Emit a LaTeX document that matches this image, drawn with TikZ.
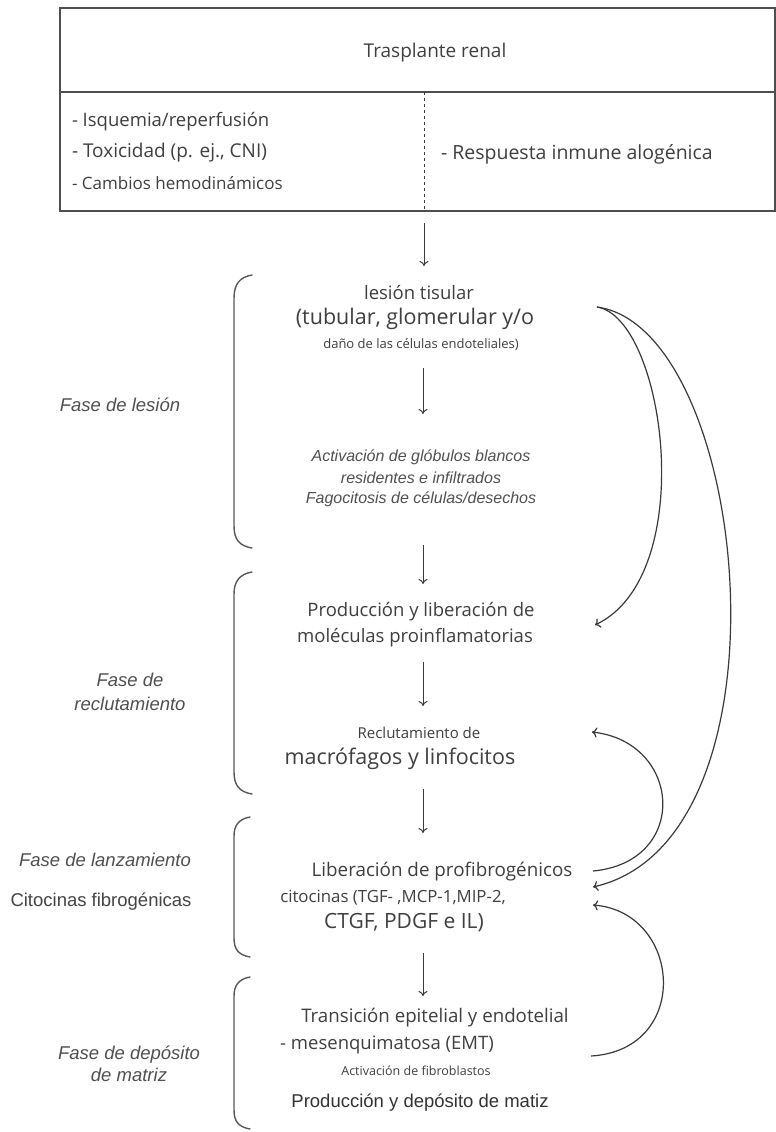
\documentclass[tikz,border=0pt]{standalone}
\usepackage{fontspec}
\setmainfont{Open Sans}
\newfontfamily\arialf{Liberation Sans}
\usetikzlibrary{arrows.meta}
\definecolor{txt}{HTML}{3F3F3F}
\definecolor{lab}{HTML}{505050}
\definecolor{lin}{HTML}{3A3A3A}
\begin{document}
\begin{tikzpicture}[x=1pt,y=-1pt,
  every node/.style={inner sep=0pt,outer sep=0pt,text=txt,align=center},
  os/.style={font=\fontsize{#1}{#1}\selectfont},
  ar/.style={font=\arialf\fontsize{#1}{#1}\selectfont},
  ari/.style={font=\arialf\itshape\fontsize{#1}{#1}\selectfont,text=lab},
  arr/.style={draw=lin,line width=1pt,-{To[length=5pt,width=9pt]}},
  crv/.style={draw=lin,line width=1.2pt,-{To[length=5pt,width=10pt]}},
  brace/.style={draw=lin!85,line width=1.4pt,line cap=round},
  boxline/.style={draw=lin!90,line width=2pt}]
\useasboundingbox (0,0) rectangle (776,1132);
\fill[white] (0,0) rectangle (776,1132);
% top box
\draw[boxline] (60,8) rectangle (775,211);
\draw[boxline] (60,92) -- (775,92);
\draw[lin,line width=1pt,dashed] (424,92) -- (424,211);
\node[os=19] (trasp) at (435,53) {Trasplante renal};
\node[os=18.5,anchor=west] (isq) at (72,122) {- Isquemia/reperfusión};
\node[os=19,anchor=west] (tox) at (72,153) {- Toxicidad (p. ej., CNI)};
\node[os=17,anchor=west] (camb) at (72,183) {- Cambios hemodinámicos};
\node[os=19.5,anchor=west] (resp) at (441,154) {- Respuesta inmune alogénica};
% central column
\node[os=18.5] (les1) at (419,293) {lesión tisular};
\node[os=21.5] (les2) at (415,319) {(tubular, glomerular y/o};
\node[os=13] (les3) at (421,345) {daño de las células endoteliales)};
\node[ari=16] (act1) at (421,457) {Activación de glóbulos blancos};
\node[ari=16] (act2) at (421,478) {residentes e infiltrados};
\node[ari=16] (act3) at (421,499) {Fagocitosis de células/desechos};
\node[os=18.5] (prod1) at (421,612) {Producción y liberación de};
\node[os=18.5] (prod2) at (415,638) {moléculas proinflamatorias};
\node[os=15] (rec1) at (419,733) {Reclutamiento de};
\node[os=21.5] (rec2) at (400,759) {macrófagos y linfocitos};
\node[os=18.8] (lib1) at (442,872) {Liberación de profibrogénicos};
\node[os=16.8] (lib2) at (393,898) {citocinas (TGF- ,MCP-1,MIP-2,};
\node[os=21] (lib3) at (404,923) {CTGF, PDGF e IL)};
\node[os=18.7] (tr1) at (435,1018) {Transición epitelial y endotelial};
\node[os=18.5] (tr2) at (387,1045) {- mesenquimatosa (EMT)};
\node[os=12.5] (tr3) at (416,1071) {Activación de fibroblastos};
\node[ar=18.5,text=black!80] (dep) at (420,1103) {Producción y depósito de matiz};
% left labels
\node[ari=18.5] (f1) at (120,405) {Fase de lesión};
\node[ari=18.5] (f2) at (130,692) {Fase de\\[5pt]reclutamiento};
\node[ari=18.5] (f3) at (105,860) {Fase de lanzamiento};
\node[ar=18.5,text=lab!85!black] (f3b) at (101,902) {Citocinas fibrogénicas};
\node[ari=18.5] (f4) at (129,1064) {Fase de depósito\\[3pt]de matriz};
% vertical arrows
\coordinate (a1s) at (424,223); \coordinate (a1e) at (424,266);
\coordinate (a2s) at (423,368); \coordinate (a2e) at (423,414);
\coordinate (a3s) at (423,545); \coordinate (a3e) at (423,584);
\coordinate (a4s) at (423,662); \coordinate (a4e) at (423,706);
\coordinate (a5s) at (423,789); \coordinate (a5e) at (423,833);
\coordinate (a6s) at (423,953); \coordinate (a6e) at (423,996);
\draw[arr] (a1s) -- (a1e);
\draw[arr] (a2s) -- (a2e);
\draw[arr] (a3s) -- (a3e);
\draw[arr] (a4s) -- (a4e);
\draw[arr] (a5s) -- (a5e);
\draw[arr] (a6s) -- (a6e);
% braces
\draw[brace] (252,275) .. controls (240,277) and (234,284) .. (234,298) -- (234,526) .. controls (234,540) and (240,546) .. (252,548);
\draw[brace] (252,572) .. controls (240,574) and (234,581) .. (234,594) -- (234,772) .. controls (234,786) and (240,792) .. (252,794);
\draw[brace] (250,817) .. controls (239,819) and (234,825) .. (234,836) -- (234,938) .. controls (234,950) and (239,955) .. (250,957);
\draw[brace] (250,977) .. controls (239,979) and (234,985) .. (234,996) -- (234,1110) .. controls (234,1122) and (239,1127) .. (250,1129);
% curved feedback arrows
\coordinate (cS) at (597,307);
\coordinate (cP) at (595,625);
\coordinate (cL) at (593,887);
\coordinate (cR) at (592,732);
\coordinate (cLs) at (593,871);
\coordinate (cLb) at (593,905);
\coordinate (cT) at (591,1056);
\draw[crv] (cS) .. controls (665,318) and (700,575) .. (cP);
\draw[crv] (cS) .. controls (750,328) and (800,840) .. (cL);
\draw[crv] (cLs) .. controls (690,862) and (682,742) .. (cR);
\draw[crv] (cT) .. controls (692,1050) and (682,912) .. (cLb);
\end{tikzpicture}
\end{document}
